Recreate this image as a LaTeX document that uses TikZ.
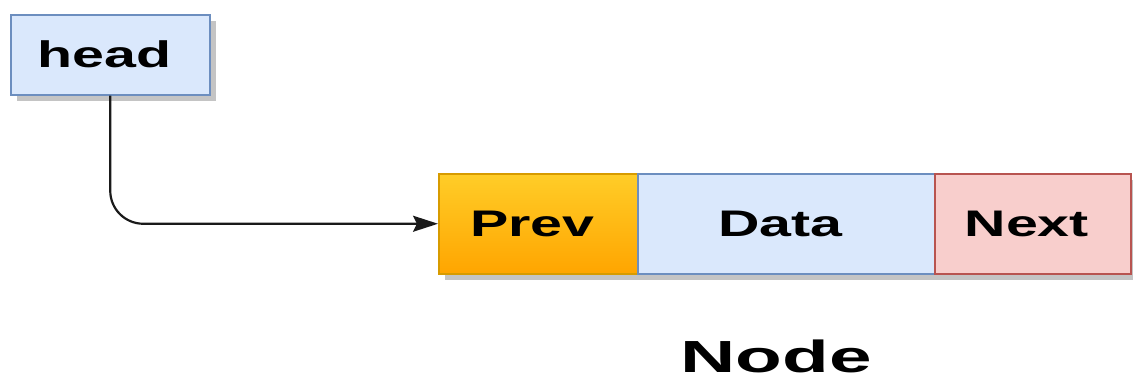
\documentclass[tikz,border=0pt]{standalone}
\usepackage{fontspec}
\usepackage{graphicx}
\setmainfont{Liberation Sans}
\usetikzlibrary{arrows.meta,shadows}
\definecolor{blueFill}{HTML}{DAE8FC}
\definecolor{blueLine}{HTML}{6C8EBF}
\definecolor{redFill}{HTML}{F8CECC}
\definecolor{redLine}{HTML}{B85450}
\definecolor{orTop}{HTML}{FFCD28}
\definecolor{orBot}{HTML}{FFA500}
\definecolor{orLine}{HTML}{D79B00}
\definecolor{shadowc}{HTML}{C4C4C4}
\definecolor{lineC}{HTML}{1A1A1A}
\newcommand\widetxt[1]{\scalebox{1.55}[1]{#1}\hspace*{12pt}}
\begin{document}
\begin{tikzpicture}[x=1pt,y=-1pt,
  cell/.style={rectangle, anchor=north west, inner sep=0pt, line width=1.5pt,
    font=\fontsize{37}{42}\selectfont\bfseries,
    drop shadow={shadow xshift=6pt, shadow yshift=-6pt, fill=shadowc, opacity=1}},
  bluecell/.style={cell, fill=blueFill, draw=blueLine},
  redcell/.style={cell, fill=redFill, draw=redLine},
  orcell/.style={cell, top color=orTop, bottom color=orBot, draw=orLine},
  conn/.style={draw=lineC, line width=2.2pt, rounded corners=33pt,
    -{Stealth[length=25pt, width=16pt, inset=4pt]}}]
\useasboundingbox (0,0) rectangle (1133,381);
\node[bluecell, minimum width=199pt, minimum height=80pt] (head) at (10,14) {\widetxt{head}};
\node[orcell, minimum width=199pt, minimum height=100pt] (prev) at (438,173) {\widetxt{Prev}};
\node[bluecell, minimum width=297pt, minimum height=100pt] (data) at (637,173) {\widetxt{Data}};
\node[redcell, minimum width=196pt, minimum height=100pt] (next) at (934,173) {\widetxt{Next}};
\node[anchor=base, inner sep=0pt, font=\fontsize{45}{50}\selectfont\bfseries] (lbl) at (776,372) {\scalebox{1.7}[1]{Node}};
\draw[conn] (head.south) |- (prev.west);
\end{tikzpicture}
\end{document}
